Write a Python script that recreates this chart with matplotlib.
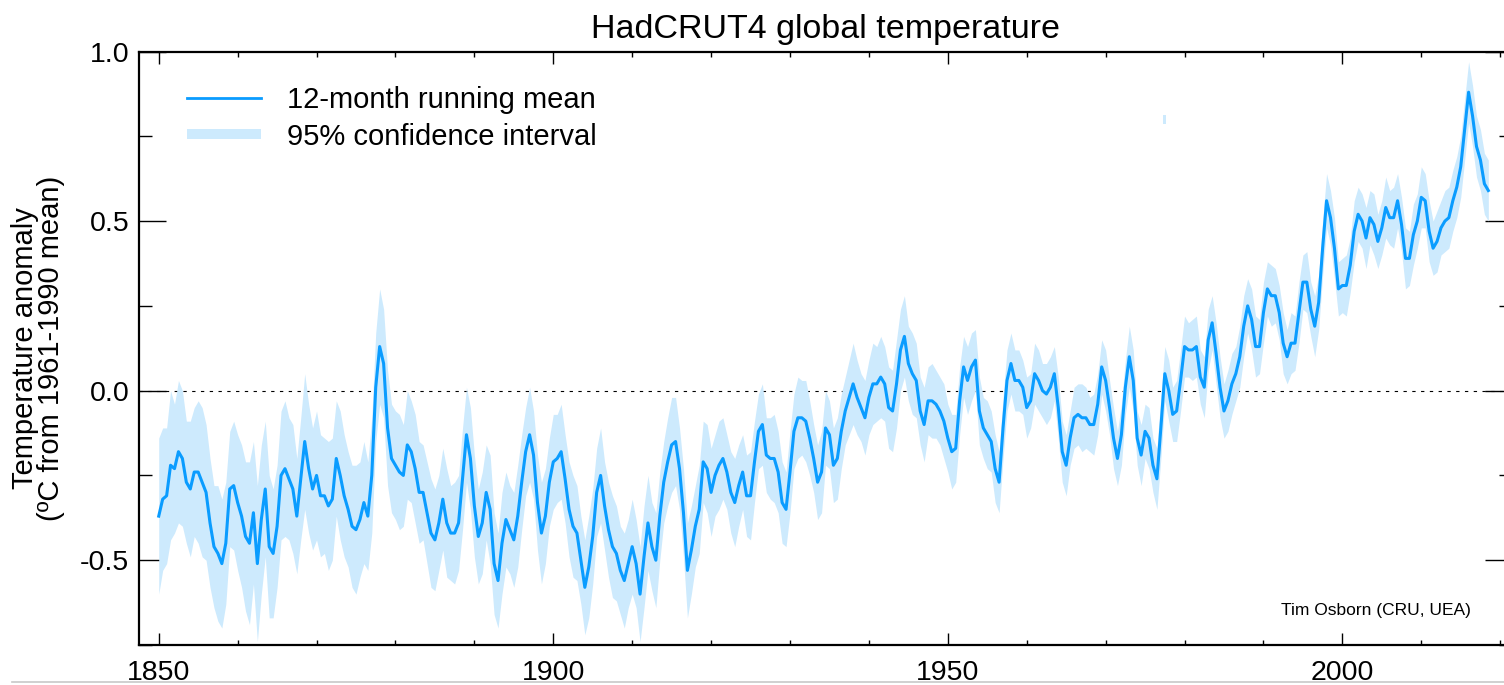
import numpy as np
import matplotlib
matplotlib.use("Agg")
import matplotlib.pyplot as plt
from matplotlib.lines import Line2D

plt.rcParams['font.family'] = ['Liberation Sans', 'DejaVu Sans']
plt.rcParams['axes.unicode_minus'] = False

# 12-month running mean, sampled every half year from 1850.0 to 2018.5 (degC)
years = np.arange(1850, 2019, 0.5)
anom = np.array([
    -0.37, -0.32, -0.31, -0.22, -0.23, -0.18, -0.20, -0.27, -0.29, -0.24, -0.24, -0.27, -0.30, -0.39, -0.46, -0.48, -0.51, -0.45, -0.29, -0.28,
    -0.33, -0.37, -0.43, -0.45, -0.36, -0.51, -0.38, -0.29, -0.46, -0.48, -0.40, -0.25, -0.23, -0.26, -0.29, -0.37, -0.26, -0.15, -0.23, -0.29,
    -0.25, -0.31, -0.31, -0.34, -0.32, -0.20, -0.25, -0.31, -0.35, -0.40, -0.41, -0.38, -0.33, -0.37, -0.25, 0.01, 0.13, 0.08, -0.11, -0.20,
    -0.22, -0.24, -0.25, -0.16, -0.18, -0.23, -0.30, -0.30, -0.36, -0.42, -0.44, -0.39, -0.32, -0.39, -0.42, -0.42, -0.39, -0.26, -0.13, -0.20,
    -0.34, -0.43, -0.39, -0.30, -0.35, -0.51, -0.56, -0.45, -0.38, -0.41, -0.44, -0.37, -0.27, -0.18, -0.13, -0.19, -0.33, -0.42, -0.37, -0.27,
    -0.21, -0.20, -0.18, -0.26, -0.35, -0.40, -0.42, -0.50, -0.58, -0.52, -0.43, -0.30, -0.25, -0.34, -0.41, -0.46, -0.48, -0.53, -0.56, -0.51,
    -0.46, -0.51, -0.60, -0.49, -0.39, -0.46, -0.50, -0.37, -0.27, -0.21, -0.16, -0.15, -0.23, -0.36, -0.53, -0.47, -0.40, -0.35, -0.21, -0.23,
    -0.30, -0.25, -0.22, -0.20, -0.24, -0.30, -0.33, -0.28, -0.24, -0.31, -0.31, -0.21, -0.12, -0.10, -0.19, -0.20, -0.20, -0.24, -0.33, -0.35,
    -0.24, -0.12, -0.08, -0.08, -0.09, -0.14, -0.20, -0.27, -0.24, -0.11, -0.13, -0.22, -0.20, -0.12, -0.06, -0.02, 0.02, -0.02, -0.05, -0.08,
    -0.02, 0.02, 0.02, 0.04, 0.02, -0.05, -0.06, 0.02, 0.12, 0.16, 0.08, 0.05, 0.03, -0.06, -0.10, -0.03, -0.03, -0.04, -0.06, -0.09,
    -0.14, -0.18, -0.17, -0.03, 0.07, 0.03, 0.07, 0.09, -0.06, -0.11, -0.13, -0.15, -0.23, -0.27, -0.11, 0.03, 0.08, 0.03, 0.03, 0.01,
    -0.05, -0.03, 0.05, 0.03, 0.00, -0.01, 0.01, 0.05, -0.05, -0.18, -0.22, -0.14, -0.08, -0.07, -0.08, -0.08, -0.10, -0.10, -0.04, 0.07,
    0.03, -0.05, -0.14, -0.20, -0.13, 0.01, 0.10, 0.03, -0.14, -0.19, -0.12, -0.14, -0.22, -0.26, -0.11, 0.05, 0.00, -0.07, -0.06, 0.03,
    0.13, 0.12, 0.12, 0.13, 0.04, 0.01, 0.15, 0.20, 0.11, 0.01, -0.06, -0.03, 0.02, 0.05, 0.10, 0.19, 0.25, 0.21, 0.13, 0.13,
    0.23, 0.30, 0.28, 0.28, 0.23, 0.14, 0.10, 0.14, 0.14, 0.23, 0.32, 0.32, 0.24, 0.19, 0.26, 0.42, 0.56, 0.51, 0.42, 0.30,
    0.31, 0.31, 0.37, 0.47, 0.52, 0.50, 0.45, 0.51, 0.49, 0.44, 0.48, 0.54, 0.51, 0.51, 0.56, 0.49, 0.39, 0.39, 0.46, 0.50,
    0.57, 0.56, 0.47, 0.42, 0.44, 0.48, 0.50, 0.51, 0.56, 0.60, 0.66, 0.77, 0.88, 0.81, 0.72, 0.68, 0.61, 0.59,
])

# half-width of the 95% confidence interval, same sampling
ci = np.array([
    0.23, 0.21, 0.20, 0.22, 0.19, 0.21, 0.20, 0.18, 0.20, 0.19, 0.21, 0.22, 0.20, 0.19, 0.18, 0.20, 0.19, 0.18, 0.17, 0.19,
    0.20, 0.21, 0.22, 0.24, 0.21, 0.23, 0.22, 0.20, 0.21, 0.19, 0.18, 0.19, 0.20, 0.18, 0.19, 0.17, 0.18, 0.20, 0.19, 0.18,
    0.19, 0.18, 0.17, 0.19, 0.18, 0.17, 0.19, 0.18, 0.17, 0.18, 0.19, 0.17, 0.18, 0.16, 0.17, 0.16, 0.17, 0.16, 0.17, 0.16,
    0.16, 0.17, 0.15, 0.16, 0.15, 0.16, 0.15, 0.14, 0.15, 0.16, 0.15, 0.14, 0.15, 0.16, 0.14, 0.15, 0.14, 0.15, 0.14, 0.15,
    0.15, 0.14, 0.15, 0.14, 0.16, 0.15, 0.14, 0.15, 0.14, 0.13, 0.14, 0.15, 0.14, 0.13, 0.14, 0.13, 0.14, 0.15, 0.14, 0.13,
    0.14, 0.13, 0.14, 0.13, 0.14, 0.15, 0.14, 0.13, 0.14, 0.15, 0.14, 0.13, 0.14, 0.13, 0.14, 0.15, 0.14, 0.13, 0.14, 0.13,
    0.14, 0.13, 0.14, 0.15, 0.14, 0.13, 0.14, 0.13, 0.12, 0.13, 0.14, 0.13, 0.12, 0.13, 0.14, 0.13, 0.12, 0.13, 0.12, 0.13,
    0.13, 0.12, 0.13, 0.12, 0.11, 0.12, 0.13, 0.12, 0.11, 0.12, 0.13, 0.12, 0.11, 0.12, 0.11, 0.12, 0.13, 0.12, 0.12, 0.11,
    0.12, 0.11, 0.12, 0.11, 0.12, 0.11, 0.10, 0.11, 0.12, 0.11, 0.10, 0.11, 0.12, 0.11, 0.10, 0.11, 0.12, 0.11, 0.10, 0.11,
    0.11, 0.12, 0.11, 0.12, 0.11, 0.12, 0.12, 0.13, 0.12, 0.12, 0.11, 0.12, 0.11, 0.10, 0.11, 0.10, 0.11, 0.10, 0.10, 0.11,
    0.10, 0.11, 0.10, 0.10, 0.09, 0.10, 0.10, 0.09, 0.10, 0.09, 0.10, 0.09, 0.10, 0.09, 0.09, 0.09, 0.09, 0.09, 0.09, 0.08,
    0.09, 0.08, 0.09, 0.09, 0.08, 0.09, 0.09, 0.08, 0.09, 0.09, 0.09, 0.08, 0.09, 0.09, 0.10, 0.09, 0.08, 0.09, 0.09, 0.08,
    0.09, 0.08, 0.09, 0.08, 0.09, 0.08, 0.09, 0.09, 0.08, 0.09, 0.08, 0.09, 0.08, 0.09, 0.09, 0.08, 0.09, 0.08, 0.09, 0.09,
    0.09, 0.08, 0.09, 0.09, 0.08, 0.09, 0.09, 0.08, 0.09, 0.09, 0.08, 0.09, 0.09, 0.08, 0.09, 0.09, 0.08, 0.09, 0.09, 0.08,
    0.09, 0.08, 0.09, 0.08, 0.08, 0.09, 0.08, 0.09, 0.08, 0.09, 0.08, 0.09, 0.08, 0.09, 0.08, 0.08, 0.08, 0.08, 0.09, 0.08,
    0.08, 0.09, 0.08, 0.09, 0.08, 0.08, 0.09, 0.08, 0.09, 0.08, 0.08, 0.09, 0.08, 0.09, 0.08, 0.08, 0.09, 0.08, 0.09, 0.08,
    0.09, 0.08, 0.09, 0.08, 0.09, 0.08, 0.09, 0.09, 0.09, 0.09, 0.09, 0.09, 0.09, 0.09, 0.09, 0.09, 0.09, 0.09,
])

# a lone band fragment that sits well above the series around 1977
stray_x = [1977.25, 1977.7]
stray_lo = [0.785, 0.785]
stray_hi = [0.812, 0.812]

xticks_major = [1850, 1900, 1950, 2000]
xticks_minor = list(range(1850, 2030, 10))
yticks_major = [-0.5, 0.0, 0.5, 1.0]
ytick_labels = ['-0.5', '0.0', '0.5', '1.0']
yticks_minor = [-0.75, -0.25, 0.25, 0.75]

line_col = '#0a9cff'
band_col = '#cdeafd'

fig = plt.figure(figsize=(15.04, 6.85), dpi=100)
ax = fig.add_axes([139 / 1504, 1 - 645 / 685, 1373 / 1504, 593.5 / 685])

ax.axhline(0, color='black', lw=0.8, linestyle=(0, (3, 4.9)), zorder=1)
ax.fill_between(years, anom - ci, anom + ci, color=band_col, lw=0, zorder=2)
ax.fill_between(stray_x, stray_lo, stray_hi, color=band_col, lw=0, zorder=2)
ax.plot(years, anom, color=line_col, lw=2.2, zorder=3)

ax.set_xlim(1847.5, 2021.5)
ax.set_ylim(-0.75, 1.0)

ax.set_xticks(xticks_major)
ax.set_xticks(xticks_minor, minor=True)
ax.set_yticks(yticks_major)
ax.set_yticklabels(ytick_labels)
ax.set_yticks(yticks_minor, minor=True)

ax.tick_params(axis='x', which='major', direction='in', length=8.4, width=1,
               top=True, labelsize=20.5, pad=11)
ax.tick_params(axis='x', which='minor', direction='in', length=3.6, width=1, top=True)
ax.tick_params(axis='y', which='major', direction='in', length=19.4, width=1,
               right=True, labelsize=20.5, pad=7)
ax.tick_params(axis='y', which='minor', direction='in', length=9.4, width=1, right=True)
for sp in ax.spines.values():
    sp.set_linewidth(1.6)

ax.set_title('HadCRUT4 global temperature', fontsize=24.5, pad=10)

fig.text(38 / 1504, 1 - 348 / 685, 'Temperature anomaly\n(ºC from 1961-1990 mean)',
         rotation=90, ha='center', va='center', multialignment='center',
         fontsize=21, linespacing=0.95)

handles = [Line2D([], [], color=line_col, lw=2),
           Line2D([], [], color=band_col, lw=7.2, solid_capstyle='butt')]
ax.legend(handles, ['12-month running mean', '95% confidence interval'],
          loc='upper left', bbox_to_anchor=(0.035, 0.942), borderaxespad=0,
          borderpad=0, frameon=False, fontsize=21, handlelength=2.55,
          handletextpad=0.86, labelspacing=0.3)

fig.text(1471 / 1504, 1 - 615 / 685, 'Tim Osborn (CRU, UEA)', ha='right',
         va='baseline', fontsize=12.5)

# thin rule along the bottom of the page
fig.add_artist(Line2D([12 / 1504, 1], [1 - 681.5 / 685] * 2, color='#c8c8c8',
                      lw=1.2, transform=fig.transFigure))

fig.savefig('out.png', dpi=100)
